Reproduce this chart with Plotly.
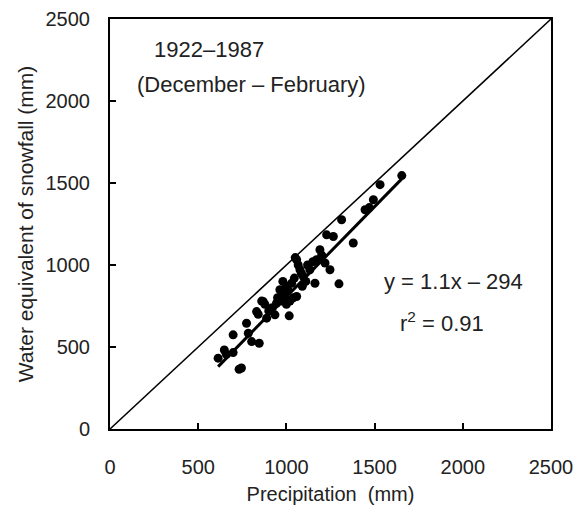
import plotly.graph_objects as go

# Scatter data (mm)
precipitation = [613, 660, 648, 698, 698, 732, 745, 774, 784, 803, 846, 831, 840, 860,
                 869, 888, 878, 900, 920, 935, 944, 950, 963, 970, 980, 980, 991, 1000,
                 1000, 1008, 1016, 1020, 1030, 1039, 1045, 1050, 1058, 1058, 1067, 1077,
                 1085, 1090, 1096, 1110, 1120, 1133, 1150, 1162, 1171, 1190, 1200, 1219,
                 1228, 1247, 1266, 1298, 1313, 1379, 1446, 1470, 1493, 1531, 1654]
snowfall = [432, 455, 482, 466, 574, 364, 372, 645, 584, 533, 523, 716, 700, 780,
            777, 676, 760, 720, 740, 696, 767, 800, 849, 780, 830, 900, 808, 870,
            760, 850, 690, 780, 889, 800, 920, 1045, 808, 1032, 1000, 971,
            950, 870, 930, 900, 1000, 971, 1020, 889, 1032, 1093, 1060, 1012,
            1184, 971, 1174, 885, 1276, 1134, 1337, 1350, 1398, 1490, 1545]

slope = 1.1
intercept = -294
r2 = 0.91
period = "1922\u20131987"
season = "(December \u2013 February)"

axis_range = [0, 2500]
ticks = [0, 500, 1000, 1500, 2000, 2500]

FONT = "Liberation Sans"
TXT = "#222"

fig = go.Figure()

# 1:1 line
fig.add_trace(go.Scatter(x=axis_range, y=axis_range, mode="lines",
                         line=dict(color="black", width=1.5), showlegend=False,
                         hoverinfo="skip"))

# regression line
xr = [min(precipitation), max(precipitation)]
fig.add_trace(go.Scatter(x=xr, y=[slope * v + intercept for v in xr], mode="lines",
                         line=dict(color="black", width=3), showlegend=False))

fig.add_trace(go.Scatter(x=precipitation, y=snowfall, mode="markers",
                         marker=dict(color="black", size=9), showlegend=False))

axis_common = dict(range=axis_range, tickvals=ticks, ticks="inside", ticklen=6,
                   tickwidth=1.5, tickcolor="black", showline=True, linecolor="black",
                   linewidth=2, mirror=True, showgrid=False, zeroline=False,
                   automargin=False,
                   tickfont=dict(family=FONT, size=20, color=TXT))

fig.update_xaxes(**axis_common, ticklabelstandoff=19,
                 title=dict(text="Precipitation  (mm)", standoff=10,
                            font=dict(family=FONT, size=20, color=TXT)))
fig.update_yaxes(**axis_common, ticklabelstandoff=14,
                 title=dict(text="Water equivalent of snowfall (mm)", standoff=6,
                            font=dict(family=FONT, size=21, color=TXT)))

ann_font = dict(family=FONT, size=22, color=TXT)
fig.add_annotation(x=0.0947, y=0.926, xref="paper", yref="paper", text=period,
                   showarrow=False, font=ann_font, xanchor="left", yanchor="middle")
fig.add_annotation(x=0.056, y=0.84, xref="paper", yref="paper", text=season,
                   showarrow=False, font=ann_font, xanchor="left", yanchor="middle")
fig.add_annotation(x=0.617, y=0.359, xref="paper", yref="paper",
                   text=f"y = {slope}x \u2013 {abs(intercept)}",
                   showarrow=False, font=ann_font, xanchor="left", yanchor="middle")
fig.add_annotation(x=0.653, y=0.262, xref="paper", yref="paper",
                   text=f"r<sup>2</sup> = {r2}",
                   showarrow=False, font=ann_font, xanchor="left", yanchor="middle")

fig.update_layout(width=587, height=506, plot_bgcolor="white", paper_bgcolor="white",
                  margin=dict(l=102, r=44, t=11, b=85), font=dict(family=FONT))

fig.write_html("out.html")
